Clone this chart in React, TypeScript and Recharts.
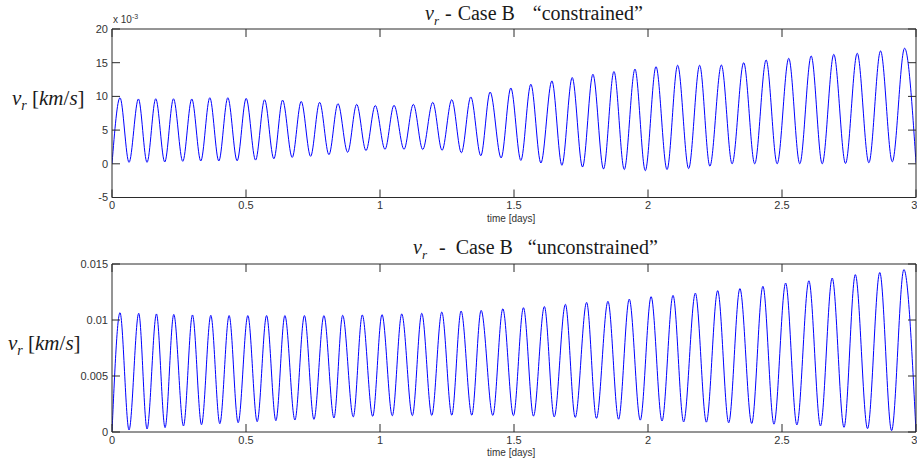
import { LineChart, Line, XAxis, YAxis } from 'recharts';

// upper panel ("constrained"), values in units of 1e-3 km/s
const topPeakDays = [
  0.0299, 0.0986, 0.1632, 0.2294, 0.2977, 0.365, 0.4322, 0.5006, 0.5693, 0.6365,
  0.706, 0.7747, 0.8431, 0.913, 0.9824, 1.0523, 1.1244, 1.1969, 1.2678, 1.3388,
  1.4109, 1.4882, 1.5629, 1.6414, 1.7172, 1.7945, 1.873, 1.9514, 2.0299, 2.1106,
  2.1927, 2.2738, 2.3571, 2.4408, 2.5252, 2.6089, 2.6933, 2.7807, 2.8677, 2.9574,
];
const topPeakVals = [
  9.8, 9.62, 9.65, 9.65, 9.62, 9.8, 9.8, 9.7, 9.5, 9.45,
  9.25, 9.12, 8.92, 8.82, 8.65, 8.68, 8.82, 9.12, 9.52, 9.92,
  10.65, 11.25, 11.8, 12.3, 12.8, 13.28, 13.7, 14.05, 14.42, 14.62,
  14.62, 14.66, 15.0, 15.4, 15.65, 16.0, 16.24, 16.4, 16.75, 17.15,
];
// troughs, with the first and last sample of the curve at the ends
const topLowDays = [
  0, 0.0635, 0.1307, 0.1969, 0.2641, 0.3313, 0.3986, 0.4669, 0.5357, 0.604, 0.6724,
  0.7411, 0.8095, 0.8793, 0.9477, 1.0187, 1.0897, 1.1595, 1.2316, 1.3037, 1.3762,
  1.452, 1.5256, 1.6003, 1.6787, 1.7557, 1.8341, 1.9115, 1.9899, 2.071,
  2.1517, 2.2309, 2.3138, 2.3982, 2.4819, 2.5663, 2.65, 2.737, 2.8241, 2.9115, 3.0,
];
const topLowVals = [
  0, 0.22, 0.22, 0.27, 0.37, 0.42, 0.42, 0.45, 0.55, 0.75, 0.95,
  1.11, 1.36, 1.71, 1.96, 2.15, 2.15, 2.12, 2.0, 1.64, 1.2,
  0.87, 0.5, 0.12, -0.22, -0.48, -0.77, -0.85, -1.02, -0.86,
  -0.71, -0.35, 0, 0, 0, 0, 0, 0.05, 0.15, 0.3, 0.15,
];

// lower panel ("unconstrained"), km/s
const botPeakDays = [
  0.0299, 0.0997, 0.1659, 0.2305, 0.3003, 0.3687, 0.437, 0.5069, 0.5768, 0.6451,
  0.718, 0.7908, 0.8607, 0.9339, 1.0075, 1.0811, 1.1558, 1.2305, 1.3026, 1.3773,
  1.4583, 1.5353, 1.6134, 1.6918, 1.771, 1.8506, 1.9301, 2.0116, 2.0934, 2.1767,
  2.26, 2.3429, 2.4288, 2.5136, 2.6003, 2.6873, 2.7736, 2.8648, 2.9548,
];
const botPeakVals = [
  0.01065, 0.0106, 0.01054, 0.0105, 0.01045, 0.01042, 0.0104, 0.0104, 0.0104, 0.0104,
  0.0104, 0.0104, 0.01042, 0.01045, 0.01048, 0.01054, 0.0106, 0.01071, 0.0108, 0.01086,
  0.011, 0.0111, 0.0112, 0.0114, 0.01157, 0.01167, 0.01186, 0.01208, 0.0122, 0.0124,
  0.01262, 0.0128, 0.01301, 0.0133, 0.0135, 0.01375, 0.01405, 0.01424, 0.0145,
];
const botLowDays = [
  0, 0.0635, 0.1307, 0.198, 0.2667, 0.334, 0.4023, 0.4707, 0.5417, 0.6115, 0.6825,
  0.7535, 0.8282, 0.9003, 0.9727, 1.0459, 1.1207, 1.1931, 1.2678, 1.3425, 1.421,
  1.4979, 1.5727, 1.65, 1.7284, 1.8076, 1.8902, 1.9712, 2.0523, 2.133,
  2.2178, 2.3011, 2.387, 2.47, 2.5555, 2.6436, 2.7314, 2.8192, 2.9089, 3.0,
];
const botLowVals = [
  0, 0.00018, 0.00027, 0.00039, 0.00054, 0.00065, 0.00074, 0.00083, 0.00092, 0.00101, 0.00107,
  0.00113, 0.00125, 0.00135, 0.0014, 0.00145, 0.00146, 0.00148, 0.0015, 0.0015, 0.00148,
  0.00146, 0.00142, 0.00135, 0.0013, 0.00122, 0.00114, 0.00106, 0.00098, 0.0009,
  0.00088, 0.00082, 0.00076, 0.0007, 0.00063, 0.00054, 0.00042, 0.0003, 0.00012, 0,
];

const dayTicks = [0, 0.5, 1, 1.5, 2, 2.5, 3];
const topTicks = [-5, 0, 5, 10, 15, 20];
const botTicks = [0, 0.005, 0.01, 0.015];

const AXIS = '#2b2b2b';
const TICK_FONT = { fontSize: 11, fill: '#333', fontFamily: '"Liberation Sans", Arial, sans-serif' };
const SERIF = '"Liberation Serif", "Times New Roman", serif';

// label-less tick, so the mirrored axes keep their tick marks
const NoLabel = () => <g />;

function mergeSeries(hiT: number[], hiV: number[], loT: number[], loV: number[]) {
  const pts = [
    ...hiT.map((t, i) => ({ t, v: hiV[i] })),
    ...loT.map((t, i) => ({ t, v: loV[i] })),
  ];
  return pts.sort((a, b) => a.t - b.t);
}

interface PanelProps {
  data: { t: number; v: number }[];
  height: number;
  marginTop: number;
  xAxisHeight: number;
  yDomain: [number, number];
  yTicks: number[];
}

function Panel({ data, height, marginTop, xAxisHeight, yDomain, yTicks }: PanelProps) {
  // the extra mirrored axes only draw the inward ticks and the top/right box edges
  const xCommon = { type: 'number' as const, dataKey: 't', domain: [0, 3], ticks: dayTicks, allowDataOverflow: true };
  const yCommon = { type: 'number' as const, domain: yDomain, ticks: yTicks, allowDataOverflow: true };
  return (
    <LineChart width={917} height={height} data={data} margin={{ top: marginTop, right: 1, left: 0, bottom: 0 }}>
      <XAxis
        xAxisId="x"
        {...xCommon}
        height={xAxisHeight}
        tickLine={false}
        tickSize={0}
        tickMargin={4}
        tick={TICK_FONT}
        axisLine={{ stroke: AXIS }}
      />
      <XAxis xAxisId="xb" {...xCommon} mirror height={1} tick={NoLabel} tickSize={8} tickLine={{ stroke: AXIS }} axisLine={false} />
      <XAxis xAxisId="xt" orientation="top" {...xCommon} mirror height={1} tick={NoLabel} tickSize={8} tickLine={{ stroke: AXIS }} axisLine={{ stroke: AXIS }} />
      <YAxis
        yAxisId="y"
        {...yCommon}
        width={112}
        tickLine={false}
        tickSize={0}
        tickMargin={4}
        tick={TICK_FONT}
        axisLine={{ stroke: AXIS }}
      />
      <YAxis yAxisId="yl" {...yCommon} mirror width={1} tick={NoLabel} tickSize={8} tickLine={{ stroke: AXIS }} axisLine={false} />
      <YAxis yAxisId="yr" orientation="right" {...yCommon} mirror width={1} tick={NoLabel} tickSize={8} tickLine={{ stroke: AXIS }} axisLine={{ stroke: AXIS }} />
      <Line xAxisId="xb" yAxisId="yl" dataKey="v" stroke="none" dot={false} isAnimationActive={false} />
      <Line xAxisId="xt" yAxisId="yr" dataKey="v" stroke="none" dot={false} isAnimationActive={false} />
      <Line
        xAxisId="x"
        yAxisId="y"
        type="monotone"
        dataKey="v"
        stroke="#0000ff"
        strokeWidth={1}
        dot={false}
        isAnimationActive={false}
      />
    </LineChart>
  );
}

function VrLabel({ top, left }: { top: number; left: number }) {
  return (
    <div style={{ position: 'absolute', top, left, fontFamily: SERIF, fontSize: 21, color: '#1a1a1a', whiteSpace: 'nowrap' }}>
      <i>v</i>
      <sub style={{ fontSize: 14, fontStyle: 'italic' }}>r</sub> [<i>km</i>/<i>s</i>]
    </div>
  );
}

export default function App() {
  const topData = mergeSeries(topPeakDays, topPeakVals, topLowDays, topLowVals);
  const botData = mergeSeries(botPeakDays, botPeakVals, botLowDays, botLowVals);

  const small = { position: 'absolute' as const, fontFamily: '"Liberation Sans", Arial, sans-serif', color: '#333', whiteSpace: 'nowrap' as const };
  const title = { position: 'absolute' as const, fontFamily: SERIF, fontSize: 20, color: '#1a1a1a', whiteSpace: 'nowrap' as const };

  return (
    <div style={{ position: 'absolute', left: 0, top: 0, width: 917, height: 463, background: '#fff' }}>
      <div style={{ position: 'absolute', left: 0, top: 0 }}>
        <Panel data={topData} height={232} marginTop={29} xAxisHeight={34.5} yDomain={[-5, 20]} yTicks={topTicks} />
      </div>
      <div style={{ position: 'absolute', left: 0, top: 232 }}>
        <Panel data={botData} height={231} marginTop={32} xAxisHeight={31} yDomain={[0, 0.015]} yTicks={botTicks} />
      </div>

      {/* titles */}
      <div style={{ ...title, left: 425, top: 2 }}>
        <i>v</i><sub style={{ fontSize: 13, fontStyle: 'italic' }}>r</sub>
        <span style={{ marginLeft: 6 }}>-</span>
        <span style={{ marginLeft: 6 }}>Case B</span>
        <span style={{ marginLeft: 18 }}>“constrained”</span>
      </div>
      <div style={{ ...title, left: 413, top: 236 }}>
        <i>v</i><sub style={{ fontSize: 13, fontStyle: 'italic' }}>r</sub>
        <span style={{ marginLeft: 12 }}>-</span>
        <span style={{ marginLeft: 10 }}>Case B</span>
        <span style={{ marginLeft: 15 }}>“unconstrained”</span>
      </div>

      {/* axis labels */}
      <VrLabel top={86} left={12} />
      <VrLabel top={331} left={8} />

      <div style={{ ...small, left: 487, top: 213, fontSize: 10 }}>time [days]</div>
      <div style={{ ...small, left: 487, top: 447, fontSize: 10 }}>time [days]</div>

      <div style={{ ...small, left: 113, top: 13, fontSize: 10 }}>
        x 10<sup style={{ fontSize: 7 }}>-3</sup>
      </div>
    </div>
  );
}
